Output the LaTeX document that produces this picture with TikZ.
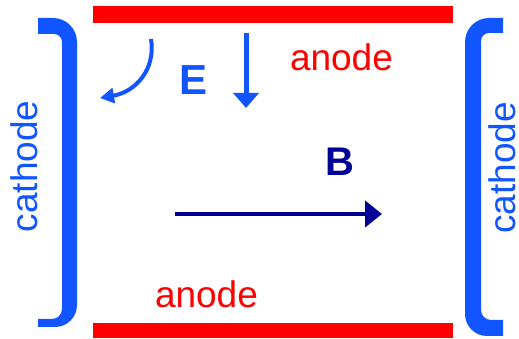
\documentclass[tikz,border=0pt]{standalone}
\usepackage{fontspec}
\setmainfont{Liberation Sans}
\usetikzlibrary{arrows.meta}
\definecolor{cblue}{RGB}{16,85,255}
\definecolor{cred}{RGB}{255,0,0}
\definecolor{cnavy}{RGB}{0,0,150}
\tikzset{
  lbl/.style={inner sep=0pt, outer sep=0pt},
  anodetxt/.style={lbl, text=cred, font=\fontsize{37}{37}\selectfont},
  cathtxt/.style={lbl, text=cblue, font=\fontsize{37}{37}\selectfont, rotate=90, anchor=base},
  bigE/.style={lbl, text=cblue, font=\bfseries\fontsize{42}{42}\selectfont},
  bigB/.style={lbl, text=cnavy, font=\bfseries\fontsize{40}{40}\selectfont},
  elec/.style={cblue, line width=5pt, -{Triangle[length=15pt,width=25pt]}},
  elecc/.style={cblue, line width=4pt, -{Triangle[length=14pt,width=15pt]}},
  magn/.style={cnavy, line width=4.5pt, -{Triangle[length=17pt,width=26pt]}},
}
\begin{document}
\begin{tikzpicture}[x=1pt,y=1pt]
\useasboundingbox (0,0) rectangle (519,339);
% anodes
\fill[cred] (93,316) rectangle (453,333);
\fill[cred] (93,1) rectangle (453,16);
% left cathode bracket
\fill[cblue] (38,321) -- (53,321) arc[start angle=90,end angle=0,radius=24]
  -- (77,34) arc[start angle=0,end angle=-90,radius=22]
  -- (38,12) -- (38,20) -- (52,20) arc[start angle=-90,end angle=0,radius=10]
  -- (62,297) arc[start angle=0,end angle=90,radius=8]
  -- (38,305) -- cycle;
% right cathode bracket
\fill[cblue] (503,321) -- (489,321) arc[start angle=90,end angle=180,radius=24]
  -- (465,25) arc[start angle=180,end angle=270,radius=22]
  -- (503,3) -- (503,19) -- (491,19) arc[start angle=270,end angle=180,radius=10]
  -- (481,298) arc[start angle=180,end angle=90,radius=8]
  -- (503,306) -- cycle;
% labels
\node[anodetxt, anchor=base west] (anodeT) at (290,268) {anode};
\node[anodetxt, anchor=base west] (anodeB) at (155,31) {anode};
\node[cathtxt] (cathL) at (37,172.5) {cathode};
\node[cathtxt] (cathR) at (515,171) {cathode};
\node[bigE] (E) at (193.5,259) {E};
\node[bigB] (B) at (340,177.5) {B};
% field arrows
\coordinate (e1) at (246,306);
\coordinate (e2) at (246,231);
\draw[elec] (e1) -- (e2);
\coordinate (c1) at (151,300);
\coordinate (c2) at (100,241);
\draw[elecc] (c1) .. controls (156,269) and (135,247) .. (c2);
\coordinate (b1) at (175,125);
\coordinate (b2) at (382,125);
\draw[magn] (b1) -- (b2);
\end{tikzpicture}
\end{document}
